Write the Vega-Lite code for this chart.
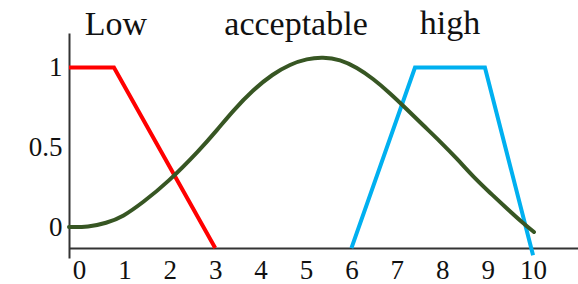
{
  "$schema": "https://vega.github.io/schema/vega-lite/v6.json",
  "width": 509,
  "height": 225,
  "autosize": {"type": "none"},
  "padding": {"left": 69, "top": 33, "right": 0, "bottom": 26},
  "background": "white",
  "config": {"view": {"stroke": null}, "font": "Liberation Serif"},
  "datasets": {
    "curves": [
      {"series": "low", "x": -0.22, "y": 1},
      {"series": "low", "x": 0.77, "y": 1},
      {"series": "low", "x": 3, "y": -0.125},
      {"series": "high", "x": 6, "y": -0.125},
      {"series": "high", "x": 7.4, "y": 1},
      {"series": "high", "x": 8.94, "y": 1},
      {"series": "high", "x": 10, "y": -0.17},
      {"series": "acceptable", "x": -0.22, "y": 0.006},
      {"series": "acceptable", "x": 0.2, "y": 0.005},
      {"series": "acceptable", "x": 0.6, "y": 0.03},
      {"series": "acceptable", "x": 0.97, "y": 0.07},
      {"series": "acceptable", "x": 1.41, "y": 0.16},
      {"series": "acceptable", "x": 1.94, "y": 0.28},
      {"series": "acceptable", "x": 2.67, "y": 0.49},
      {"series": "acceptable", "x": 3.04, "y": 0.61},
      {"series": "acceptable", "x": 3.39, "y": 0.73},
      {"series": "acceptable", "x": 3.83, "y": 0.86},
      {"series": "acceptable", "x": 4.27, "y": 0.96},
      {"series": "acceptable", "x": 4.65, "y": 1.02},
      {"series": "acceptable", "x": 5.02, "y": 1.055},
      {"series": "acceptable", "x": 5.37, "y": 1.065},
      {"series": "acceptable", "x": 5.75, "y": 1.05},
      {"series": "acceptable", "x": 6.12, "y": 1.0},
      {"series": "acceptable", "x": 6.48, "y": 0.93},
      {"series": "acceptable", "x": 6.85, "y": 0.84},
      {"series": "acceptable", "x": 7.22, "y": 0.74},
      {"series": "acceptable", "x": 7.58, "y": 0.64},
      {"series": "acceptable", "x": 7.95, "y": 0.54},
      {"series": "acceptable", "x": 8.33, "y": 0.43},
      {"series": "acceptable", "x": 8.68, "y": 0.32},
      {"series": "acceptable", "x": 9.05, "y": 0.22},
      {"series": "acceptable", "x": 9.43, "y": 0.12},
      {"series": "acceptable", "x": 9.78, "y": 0.03},
      {"series": "acceptable", "x": 10.02, "y": -0.025}
    ],
    "labels": [
      {"label": "Low", "x": 0.815, "y": 1.2},
      {"label": "acceptable", "x": 4.78, "y": 1.2},
      {"label": "high", "x": 8.17, "y": 1.206}
    ]
  },
  "layer": [
    {
      "data": {"name": "curves"},
      "transform": [{"filter": "datum.series !== 'acceptable'"}],
      "mark": {"type": "line", "strokeWidth": 4, "strokeCap": "butt", "strokeJoin": "miter"},
      "encoding": {
        "x": {
          "field": "x", "type": "quantitative",
          "scale": {"domain": [-0.22, 10.99], "nice": false, "zero": false},
          "axis": {
            "values": [0, 1, 2, 3, 4, 5, 6, 7, 8, 9, 10],
            "ticks": false, "grid": false, "title": null,
            "labelFont": "Liberation Serif", "labelFontSize": 27, "labelColor": "#111",
            "labelOverlap": false, "labelFlush": false,
            "domainColor": "#333", "domainWidth": 2, "offset": -10, "labelPadding": 9
          }
        },
        "y": {
          "field": "y", "type": "quantitative",
          "scale": {"domain": [-0.187, 1.215], "nice": false, "zero": false},
          "axis": {
            "values": [0, 0.5, 1], "format": "~g",
            "ticks": false, "grid": false, "title": null,
            "labelFont": "Liberation Serif", "labelFontSize": 27, "labelColor": "#111",
            "labelOverlap": false, "labelFlush": false,
            "domainColor": "#333", "domainWidth": 2, "labelPadding": 7
          }
        },
        "color": {
          "field": "series", "type": "nominal",
          "scale": {"domain": ["low", "acceptable", "high"], "range": ["#ff0000", "#375623", "#00b0f0"]},
          "legend": null
        },
        "detail": {"field": "series"},
        "order": {"field": "x", "type": "quantitative"}
      }
    },
    {
      "data": {"name": "curves"},
      "transform": [{"filter": "datum.series === 'acceptable'"}],
      "mark": {"type": "line", "strokeWidth": 4, "strokeCap": "round", "interpolate": "basis"},
      "encoding": {
        "x": {"field": "x", "type": "quantitative"},
        "y": {"field": "y", "type": "quantitative"},
        "color": {"field": "series", "type": "nominal"}
      }
    },
    {
      "data": {"name": "labels"},
      "mark": {"type": "text", "font": "Liberation Serif", "fontSize": 34, "align": "center", "baseline": "alphabetic", "color": "#111"},
      "encoding": {
        "x": {"field": "x", "type": "quantitative"},
        "y": {"field": "y", "type": "quantitative"},
        "text": {"field": "label"}
      }
    }
  ]
}
